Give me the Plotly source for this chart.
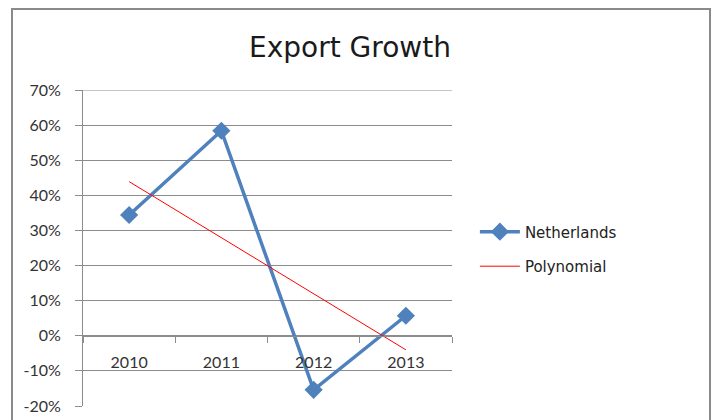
import plotly.graph_objects as go

years = ["2010", "2011", "2012", "2013"]
netherlands = [34.4, 58.4, -15.4, 5.7]
trend_years = ["2010", "2013"]
trend_values = [43.9, -4.0]
y_ticks = [-20, -10, 0, 10, 20, 30, 40, 50, 60, 70]
y_labels = [f"{v}%" for v in y_ticks]

blue = "#4F81BD"
grid = "#8C8C8C"

fig = go.Figure()
fig.add_trace(go.Scatter(
    x=years, y=netherlands, name="Netherlands", mode="lines+markers",
    line=dict(color=blue, width=3.5),
    marker=dict(symbol="diamond", size=14, color=blue),
    legendgroup="a",
))
fig.add_trace(go.Scatter(
    x=trend_years, y=trend_values, name="Polynomial", mode="lines",
    line=dict(color="#FF0000", width=1),
    legendgroup="b",
))

fig.update_layout(
    width=716, height=420,
    margin=dict(l=83, r=264, t=90, b=14, autoexpand=False),
    paper_bgcolor="white", plot_bgcolor="white",
    title=dict(text="Export Growth", x=350 / 716, xref="container", xanchor="center",
               y=1 - 47 / 420, yref="container", yanchor="middle",
               font=dict(family="DejaVu Sans", size=28, color="#1a1a1a")),
    showlegend=True,
    legend=dict(x=1.062, y=0.497, xanchor="left", yanchor="middle",
                font=dict(family="DejaVu Sans", size=15, color="#222"),
                tracegroupgap=12, itemwidth=40),
    shapes=[
        dict(type="rect", xref="paper", yref="paper",
             x0=(12 - 83) / 369, x1=(710 - 83) / 369,
             y0=-0.1, y1=1 + (90 - 9) / 316,
             line=dict(color="#8A8A8A", width=2), layer="below"),
        dict(type="line", xref="paper", yref="y", x0=0, x1=1,
             y0=y_ticks[-1], y1=y_ticks[-1],
             line=dict(color=grid, width=1), layer="below"),
    ],
)
fig.update_xaxes(
    type="category", range=[-0.5, 3.5], anchor="free", position=20 / 90,
    showline=True, linecolor=grid, linewidth=1, automargin=False,
    ticks="outside", ticklen=6, tickcolor=grid, tickson="boundaries",
    showgrid=False, ticklabelstandoff=12,
    tickfont=dict(family="Lato", size=16, color="#333"),
)
fig.update_yaxes(
    range=[-20, 70], tickvals=y_ticks, ticktext=y_labels,
    showline=True, linecolor=grid, linewidth=1, automargin=False,
    ticks="outside", ticklen=7, tickcolor=grid,
    showgrid=True, gridcolor=grid, gridwidth=1, zeroline=False,
    ticklabelstandoff=11,
    tickfont=dict(family="Lato", size=16, color="#333"),
)
fig.write_html("out.html", config={"displayModeBar": False},
               post_script="document.body.style.margin='0';")
